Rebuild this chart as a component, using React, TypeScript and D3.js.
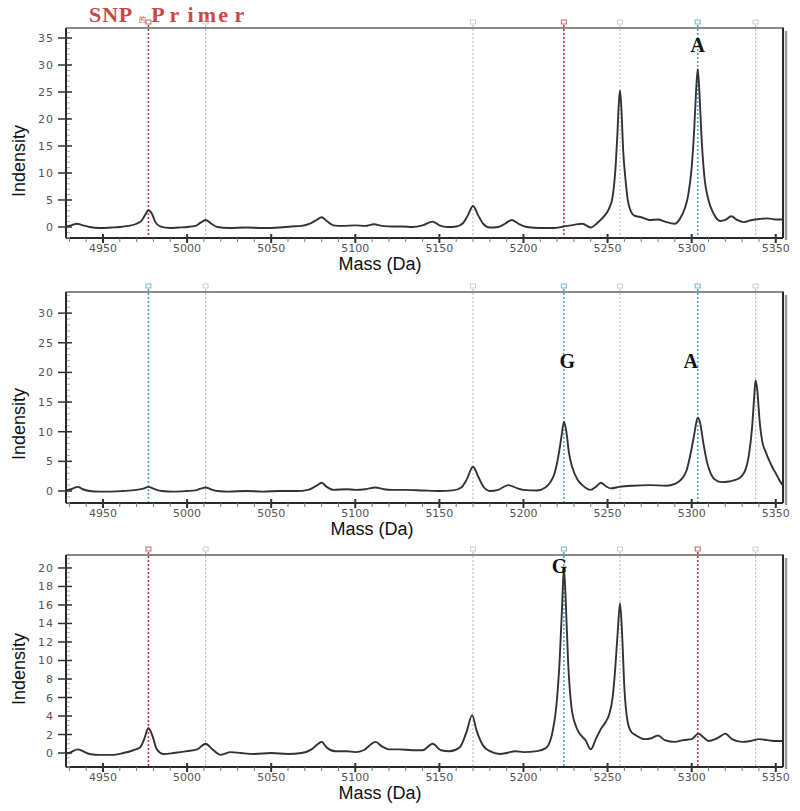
import React from 'react';
import * as d3 from 'd3';

// ---------- DATA ----------
const SPECTRUM_1: [number, number][] = [
  [4928, 0.1], [4931, 0.3], [4934.5, 0.6], [4938, 0.3], [4942, 0], [4948, -0.2], [4955, -0.1], [4960, 0],
  [4965, 0.2], [4970, 0.6], [4973, 1.2], [4975, 2.2], [4977, 3.1], [4979, 2.5], [4981, 1.0], [4984, 0.1],
  [4990, -0.2], [4995, -0.1], [5000, 0], [5005, 0.2], [5008, 0.8], [5011, 1.3], [5014, 0.7], [5018, 0],
  [5025, -0.2], [5035, -0.1], [5045, -0.2], [5055, -0.1], [5062, 0.1], [5068, 0.2], [5073, 0.6], [5077, 1.3],
  [5080, 1.8], [5083, 1.1], [5087, 0.3], [5092, 0.2], [5100, 0.3], [5106, 0.2], [5111, 0.5], [5116, 0.2],
  [5122, 0.1], [5128, 0.1], [5134, 0.0], [5140, 0.3], [5146, 1.0], [5150, 0.3], [5155, 0.0], [5160, 0.1],
  [5164, 0.7], [5167, 2.2], [5170, 3.9], [5173, 2.2], [5176, 0.6], [5180, -0.1], [5185, 0.0], [5189, 0.6],
  [5193, 1.3], [5197, 0.6], [5202, 0.0], [5210, -0.2], [5218, -0.2], [5224, 0.1], [5230, 0.4], [5235, 0.6],
  [5240, -0.1], [5244, 0.8], [5248, 2.0], [5251, 3.5], [5253, 5.6], [5254.5, 10], [5255.8, 17], [5256.7, 23],
  [5257.4, 25.3], [5258.2, 22], [5259.3, 14], [5260.5, 9.3], [5262, 5], [5264, 2.8], [5266, 2.1], [5270, 1.8],
  [5275, 1.3], [5280, 1.4], [5284, 1.0], [5290, 0.6], [5293, 1.5], [5296, 3.5], [5298, 6], [5300, 11],
  [5301.5, 18], [5302.6, 25], [5303.6, 29.2], [5304.6, 25], [5305.8, 17], [5307.5, 9.5], [5310, 5.0],
  [5313, 2.5], [5317, 1.1], [5320, 1.3], [5323.5, 2.0], [5327, 1.3], [5331, 0.9], [5336, 1.3], [5341, 1.5],
  [5345, 1.6], [5350, 1.4], [5354, 1.4],
];

const SPECTRUM_2: [number, number][] = [
  [4928, 0.1], [4931, 0.3], [4935, 0.7], [4938, 0.3], [4942, 0], [4948, -0.1], [4955, -0.1], [4962, 0.0],
  [4970, 0.2], [4974, 0.4], [4977, 0.7], [4980, 0.4], [4985, 0.0], [4992, -0.1], [5000, 0.0], [5005, 0.1],
  [5008, 0.4], [5011, 0.6], [5014, 0.3], [5018, 0.0], [5025, -0.1], [5035, 0.0], [5045, -0.1], [5055, 0.0],
  [5065, 0.0], [5072, 0.2], [5077, 0.9], [5080, 1.4], [5083, 0.7], [5087, 0.2], [5095, 0.3], [5100, 0.2],
  [5106, 0.3], [5112, 0.6], [5117, 0.3], [5122, 0.2], [5130, 0.2], [5140, 0.1], [5150, 0.0], [5158, 0.1],
  [5163, 0.6], [5166, 1.8], [5170, 4.1], [5173, 2.5], [5176, 0.8], [5180, 0.0], [5185, 0.2], [5191, 1.0],
  [5196, 0.5], [5200, 0.2], [5208, 0.1], [5213, 0.6], [5216, 1.5], [5218.5, 3], [5220.5, 5.5], [5222.5, 9],
  [5224.1, 11.7], [5225.5, 10], [5227, 6.5], [5229, 4.0], [5232, 2.0], [5235, 1.0], [5240, 0.2], [5243, 0.7],
  [5246, 1.4], [5249, 0.8], [5252, 0.45], [5257, 0.7], [5265, 0.9], [5275, 1.0], [5285, 0.9], [5290, 1.2],
  [5294, 2.0], [5297, 3.5], [5299.5, 6.5], [5301.5, 9.5], [5303.6, 12.4], [5305, 11.5], [5307, 8], [5309, 5],
  [5311, 3.2], [5314, 1.9], [5318, 1.5], [5322, 1.6], [5325, 1.8], [5328, 2.1], [5330, 2.6], [5332, 3.6],
  [5334, 6], [5336, 11], [5337.2, 16], [5338, 18.7], [5339, 17], [5340.5, 11.5], [5342, 8.3], [5344, 6.6],
  [5346, 5.2], [5348, 4.0], [5350, 3.0], [5352, 1.9], [5354, 1.0],
];

const SPECTRUM_3: [number, number][] = [
  [4928, -0.1], [4931, 0.1], [4935, 0.4], [4938, 0.2], [4942, -0.1], [4948, -0.2], [4955, -0.2], [4962, 0.0],
  [4968, 0.3], [4972, 0.6], [4974.5, 1.5], [4977, 2.7], [4979.5, 1.8], [4982, 0.4], [4986, -0.1], [4992, 0.0],
  [5000, 0.2], [5006, 0.4], [5011, 1.0], [5015, 0.4], [5020, -0.2], [5026, 0.1], [5032, 0.0], [5040, -0.1],
  [5050, 0.0], [5060, -0.1], [5068, 0.0], [5074, 0.4], [5078, 1.0], [5080, 1.2], [5083, 0.6], [5088, 0.2],
  [5095, 0.2], [5100, 0.1], [5105, 0.3], [5109, 0.9], [5112, 1.2], [5116, 0.7], [5120, 0.4], [5126, 0.4],
  [5134, 0.3], [5140, 0.3], [5146, 1.0], [5151, 0.3], [5156, 0.2], [5162, 0.6], [5166, 2.2], [5169.5, 4.1],
  [5172, 2.5], [5176, 0.8], [5180, 0.2], [5186, -0.1], [5190, 0.0], [5195, 0.2], [5200, 0.1], [5208, 0.2],
  [5213, 0.5], [5215, 0.9], [5217.5, 2.5], [5219.5, 5], [5221.5, 10], [5223, 16], [5224, 20], [5225, 17],
  [5226.5, 10], [5228.5, 5], [5231, 3.0], [5233, 2.2], [5237, 1.35], [5240, 0.4], [5243, 1.5], [5246, 2.6],
  [5249, 3.4], [5251, 4.2], [5253, 6], [5254.5, 9], [5256, 13], [5257.4, 16.2], [5258.6, 13], [5260, 7],
  [5262, 3.3], [5264, 2.3], [5267, 1.9], [5272, 1.5], [5276, 1.6], [5280, 1.9], [5284, 1.4], [5290, 1.2],
  [5295, 1.4], [5300, 1.5], [5304, 2.1], [5307, 1.7], [5310, 1.3], [5314, 1.5], [5317, 1.8], [5320, 2.1],
  [5324, 1.5], [5330, 1.2], [5335, 1.3], [5340, 1.5], [5345, 1.4], [5350, 1.3], [5354, 1.3],
];

const MARKER_MASSES = [4977, 5011, 5170, 5224, 5257.4, 5303.6, 5338];
const MARKER_KINDS_1 = ['red', 'grey', 'grey', 'red', 'grey', 'blue', 'grey'];
const MARKER_KINDS_2 = ['blue', 'grey', 'grey', 'blue', 'grey', 'blue', 'grey'];
const MARKER_KINDS_3 = ['red', 'grey', 'grey', 'blue', 'grey', 'red', 'grey'];

const MASS_TICKS = [4950, 5000, 5050, 5100, 5150, 5200, 5250, 5300, 5350];
const MASS_MINOR_TICKS = d3.range(4930, 5355, 10);
const Y_TICKS_1 = [0, 5, 10, 15, 20, 25, 30, 35];
const Y_TICKS_2 = [0, 5, 10, 15, 20, 25, 30];
const Y_TICKS_3 = [0, 2, 4, 6, 8, 10, 12, 14, 16, 18, 20];

const PEAK_LABELS_1 = [{ text: 'A', mass: 5303.6, value: 32.4 }];
const PEAK_LABELS_2 = [{ text: 'G', mass: 5226, value: 20.7 }, { text: 'A', mass: 5299.4, value: 20.7 }];
const PEAK_LABELS_3 = [{ text: 'G', mass: 5221.5, value: 19.5 }];

const X_AXIS_TITLE = 'Mass (Da)';
const Y_AXIS_TITLE = 'Indensity';
const CHART_TITLE_MAIN = 'SNP';
const CHART_TITLE_SEP = '的';
const CHART_TITLE_TAIL = 'Primer';

// ---------- LAYOUT ----------
const X0 = 66;
const X1 = 783;
const xScale = d3.scaleLinear().domain([4928, 5354.3]).range([X0, X1]);

const MARKER_COLORS: Record<string, string> = { red: '#b5403f', blue: '#4aa6cc', grey: '#c2c2c2' };

const panels = [
  { data: SPECTRUM_1, kinds: MARKER_KINDS_1, ticks: Y_TICKS_1, minorStep: 1, labels: PEAK_LABELS_1, top: 28, bottom: 238, dom: [-2.04, 36.85], massX: 380, yLabY: 161 },
  { data: SPECTRUM_2, kinds: MARKER_KINDS_2, ticks: Y_TICKS_2, minorStep: 1, labels: PEAK_LABELS_2, top: 292, bottom: 503, dom: [-2.02, 33.56], massX: 372, yLabY: 424 },
  { data: SPECTRUM_3, kinds: MARKER_KINDS_3, ticks: Y_TICKS_3, minorStep: 0.5, labels: PEAK_LABELS_3, top: 555, bottom: 767, dom: [-1.51, 21.4], massX: 380, yLabY: 669 },
];

function Panel({ p }: { p: typeof panels[number] }) {
  const y = d3.scaleLinear().domain(p.dom).range([p.bottom, p.top]);
  const line = d3.line<[number, number]>().x(d => xScale(d[0])).y(d => y(d[1])).curve(d3.curveMonotoneX);
  const minor = d3.range(Math.ceil(p.dom[0] / p.minorStep) * p.minorStep, p.dom[1], p.minorStep);
  return (
    <g>
      {MARKER_MASSES.map((m, i) => {
        const c = MARKER_COLORS[p.kinds[i]];
        const x = xScale(m);
        return (
          <g key={'mk' + i}>
            <line x1={x} x2={x} y1={p.top - 3} y2={p.bottom} stroke={c} strokeWidth={p.kinds[i] === 'grey' ? 1.2 : 1.6} strokeDasharray="2,2" />
            <rect x={x - 2.5} y={p.top - 8} width={5} height={4} fill="none" stroke={c} strokeWidth={1} opacity={0.8} />
          </g>
        );
      })}
      <line x1={X0} x2={X1 + 1} y1={p.top} y2={p.top} stroke="#8a8a8a" strokeWidth={2} />
      <line x1={X1 + 3} x2={X1 + 3} y1={p.top + 3} y2={p.bottom + 2} stroke="#9a9a9a" strokeWidth={2.5} />
      <line x1={X1} x2={X1} y1={p.top} y2={p.bottom} stroke="#2a2a2a" strokeWidth={2} />
      <line x1={X0} x2={X0} y1={p.top} y2={p.bottom} stroke="#2a2a2a" strokeWidth={2} />
      <line x1={X0} x2={X1} y1={p.bottom} y2={p.bottom} stroke="#2a2a2a" strokeWidth={2} />
      {minor.map((v, i) => (
        <line key={'ym' + i} x1={X0 + 1} x2={X0 + 4} y1={y(v)} y2={y(v)} stroke="#aaa" strokeWidth={1} />
      ))}
      {p.ticks.map(t => (
        <g key={'yt' + t}>
          <line x1={X0 - 8} x2={X0 + 6} y1={y(t)} y2={y(t)} stroke="#333" strokeWidth={1.5} />
          <text x={X0 - 12} y={y(t) + 4} textAnchor="end" fontFamily="DejaVu Sans" fontSize={11} fill="#555" letterSpacing={1}>{t}</text>
        </g>
      ))}
      {MASS_MINOR_TICKS.map(t => (
        <line key={'xm' + t} x1={xScale(t)} x2={xScale(t)} y1={p.bottom} y2={p.bottom + 4} stroke="#777" strokeWidth={1} />
      ))}
      {MASS_TICKS.map(t => (
        <g key={'xt' + t}>
          <line x1={xScale(t)} x2={xScale(t)} y1={p.bottom - 4} y2={p.bottom + 5} stroke="#333" strokeWidth={2} />
          <text x={xScale(t)} y={p.bottom + 14} textAnchor="middle" fontFamily="DejaVu Sans" fontSize={11} fill="#555">{t}</text>
        </g>
      ))}
      <path d={line(p.data) || ''} fill="none" stroke="#333" strokeWidth={1.9} strokeLinejoin="round" />
      {p.labels.map((l, i) => (
        <text key={'pl' + i} x={xScale(l.mass)} y={y(l.value)} textAnchor="middle" fontFamily="Liberation Serif" fontWeight="bold" fontSize={20} fill="#111">{l.text}</text>
      ))}
      <text x={p.massX} y={p.bottom + 32} textAnchor="middle" fontFamily="Liberation Sans" fontSize={18} fill="#111">{X_AXIS_TITLE}</text>
      <text transform={`translate(25,${p.yLabY}) rotate(-90)`} textAnchor="middle" fontFamily="Liberation Sans" fontSize={18} fill="#111">{Y_AXIS_TITLE}</text>
    </g>
  );
}

export default function App() {
  const mainChars = CHART_TITLE_MAIN.split('');
  const tailChars = CHART_TITLE_TAIL.split('');
  return (
    <svg width={800} height={811} style={{ position: 'absolute', left: 0, top: 0, background: '#fff' }}>
      <rect width={800} height={811} fill="#fff" />
      <text y={22} fontFamily="Liberation Serif" fontWeight="bold" fontSize={22} fill="#c44a4a" textAnchor="middle"
        x={mainChars.map((_, i) => 95 + i * 15.3).join(' ')}>{CHART_TITLE_MAIN}</text>
      <text x={142.5} y={22} fontFamily="Noto Sans CJK SC" fontSize={7} fill="#c44a4a" textAnchor="middle">{CHART_TITLE_SEP}</text>
      <text y={22} fontFamily="Liberation Serif" fontWeight="bold" fontSize={22} fill="#c44a4a" textAnchor="middle"
        x={tailChars.map((_, i) => 158 + i * 16.3).join(' ')}>{CHART_TITLE_TAIL}</text>
      {panels.map((p, i) => <Panel key={i} p={p} />)}
    </svg>
  );
}
